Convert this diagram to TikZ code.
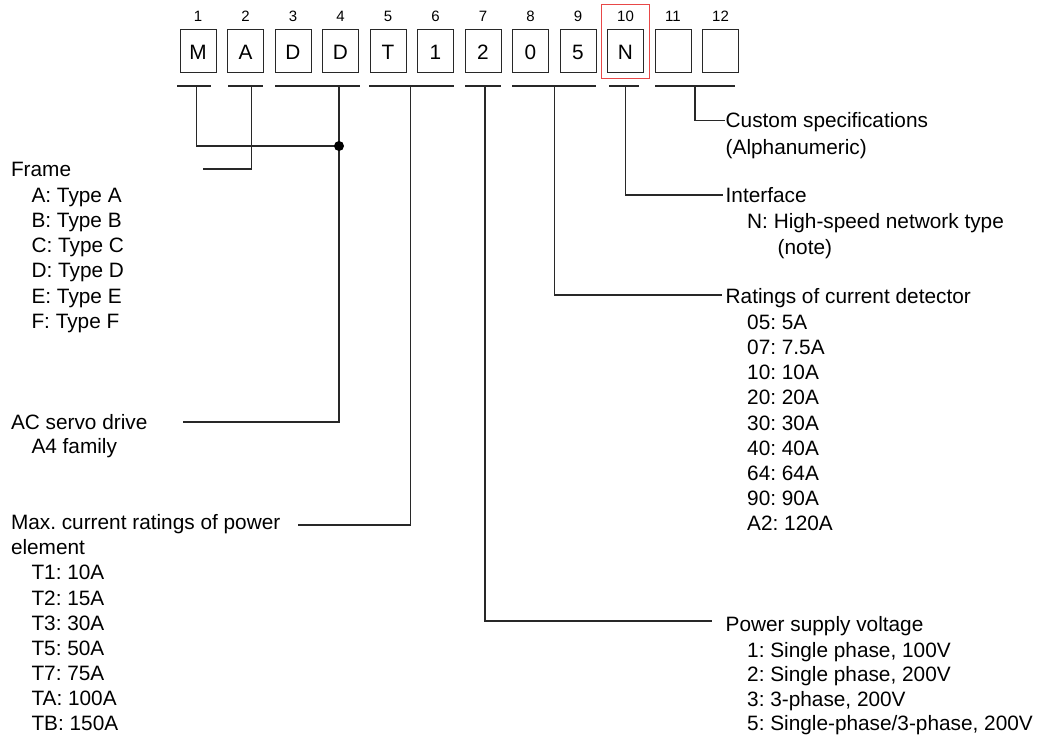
\documentclass[tikz,border=0pt]{standalone}
\usepackage{fontspec}
\setmainfont{Liberation Sans}
\definecolor{hlred}{RGB}{232,72,72}
\definecolor{lgray}{RGB}{40,40,40}
\frenchspacing
\begin{document}
\begin{tikzpicture}[x=1pt,y=-1pt,
  txt/.style={anchor=base west,inner sep=0pt,font=\fontsize{20.8}{25}\selectfont\frenchspacing,text=black},
  num/.style={inner sep=0pt,font=\fontsize{15}{17}\selectfont,text=black},
  cbox/.style={draw=lgray,line width=1pt,minimum width=36pt,minimum height=43pt,inner sep=0pt,
    text height=16.9pt,text depth=0pt,font=\fontsize{20.8}{25}\selectfont},
  uline/.style={draw=lgray,line width=1.3pt},
  conn/.style={draw=lgray,line width=1.3pt},
  hl/.style={draw=hlred,line width=1.3pt}]
\useasboundingbox (0,0) rectangle (1041,740);

% code boxes and position numbers
\foreach \i/\c in {1/M,2/A,3/D,4/D,5/T,6/1,7/2,8/0,9/5,10/N,11/{},12/{}} {
  \node[cbox] (b\i) at ({198+(\i-1)*47.5},50.8) {\c};
  \node[num] (n\i) at ({198+(\i-1)*47.5},16.7) {\i};
}
\node[hl,minimum width=48pt,minimum height=73.6pt,inner sep=0pt] (sel) at (625.3,41.5) {};

% underline groups
\draw[uline] (177,86) -- (211,86);
\draw[uline] (228.3,86) -- (263.3,86);
\draw[uline] (275,86) -- (360,86);
\draw[uline] (369,86) -- (454.3,86);
\draw[uline] (465.4,86) -- (500.5,86);
\draw[uline] (512.3,86) -- (596,86);
\draw[uline] (609.3,86) -- (639.3,86);
\draw[uline] (655,86) -- (735,86);

\coordinate (d1) at (196.7,86);
\coordinate (d2) at (251.7,86);
\coordinate (d3) at (339,86);
\coordinate (d4) at (410.8,86);
\coordinate (d5) at (485,86);
\coordinate (d6) at (554.3,86);
\coordinate (d7) at (625.7,86);
\coordinate (d8) at (695,86);

% left texts
\node[txt] (fr0) at (10.8,176.6) {Frame};
\foreach \t [count=\k from 0] in {A: Type A,B: Type B,C: Type C,D: Type D,E: Type E,F: Type F} {
  \node[txt] (fr\k x) at (31.3,{194.8+25.2*\k+7.45}) {\t};
}
\node[txt] (ac0) at (10.8,429.6) {AC servo drive};
\node[txt] (ac1) at (31.3,453.6) {A4 family};
\node[txt] (mx0) at (10.8,529.1) {Max. current ratings of power};
\node[txt] (mx1) at (10.8,554.1) {element};
\foreach \t [count=\k from 0] in {T1: 10A,T2: 15A,T3: 30A,T5: 50A,T7: 75A,TA: 100A,TB: 150A} {
  \node[txt] (mx\k x) at (31.3,{572.5+25.08*\k+7.45}) {\t};
}

% right texts
\node[txt] (cs0) at (725.5,127.9) {Custom specifications};
\node[txt] (cs1) at (725.5,154.4) {(Alphanumeric)};
\node[txt] (if0) at (725.5,202.9) {Interface};
\node[txt] (if1) at (747,228.9) {N: High-speed network type};
\node[txt] (if2) at (777.5,254.7) {(note)};
\node[txt] (rt0) at (725.5,303.7) {Ratings of current detector};
\foreach \t [count=\k from 0] in {05: 5A,07: 7.5A,10: 10A,20: 20A,30: 30A,40: 40A,64: 64A,90: 90A,A2: 120A} {
  \node[txt] (rt\k x) at (747,{322.2+25.1*\k+7.45}) {\t};
}
\node[txt] (ps0) at (725.5,631.1) {Power supply voltage};
\node[txt] (ps1) at (747,657.1) {1: Single phase, 100V};
\node[txt] (ps2) at (747,681.1) {2: Single phase, 200V};
\node[txt] (ps3) at (747,706.1) {3: 3-phase, 200V};
\node[txt] (ps4) at (747,730.4) {5: Single-phase/3-phase, 200V};

% connector ends
\coordinate (dot) at (339,146);
\coordinate (frend) at (203,169);
\coordinate (acend) at (183.3,422);
\coordinate (mxend) at (297.7,525);
\coordinate (psend) at (712,621);
\coordinate (rtend) at (722,295);
\coordinate (ifend) at (723,195);
\coordinate (csend) at (725,120.7);

\draw[conn] (d1) |- (dot);
\draw[conn] (d3) |- (acend);
\fill[black] (dot) circle (5);
\draw[conn] (d2) |- (frend);
\draw[conn] (d4) |- (mxend);
\draw[conn] (d5) |- (psend);
\draw[conn] (d6) |- (rtend);
\draw[conn] (d7) |- (ifend);
\draw[conn] (d8) |- (csend);
\end{tikzpicture}
\end{document}
